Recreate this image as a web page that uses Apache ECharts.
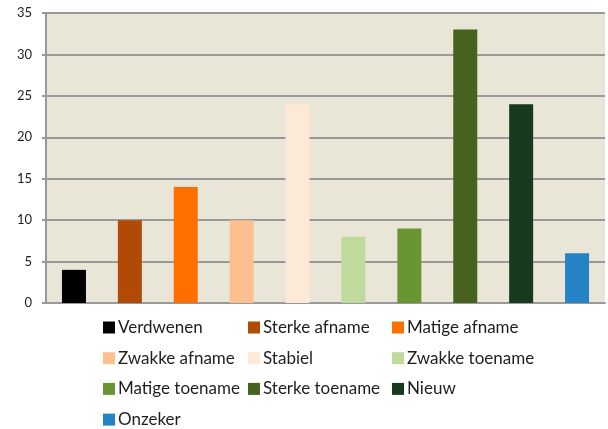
<!DOCTYPE html>
<html>
  <head>
    <meta charset="utf-8">
    <title>soorten</title>
    <script src="https://cdn.jsdelivr.net/npm/echarts@6/dist/echarts.min.js"></script>
    <style>
      html, body { margin: 0; padding: 0; background: #fff; }
    </style>
  </head>
  <body>
    <div id="main" style="width: 608px; height: 429px"></div>
    <script>
      var categories = ["Verdwenen", "Sterke afname", "Matige afname", "Zwakke afname", "Stabiel",
        "Zwakke toename", "Matige toename", "Sterke toename", "Nieuw", "Onzeker"];
      var values = [4, 10, 14, 10, 24, 8, 9, 33, 24, 6];
      var colors = ["#000000", "#B04A06", "#FF6F00", "#FDBF8E", "#FDE9D8",
        "#C0D99C", "#6A9632", "#47621E", "#173A1F", "#2383C4"];
      var yTicks = [0, 5, 10, 15, 20, 25, 30, 35];

      // legend columns, like the excel layout (column-wise)
      var legendCols = [
        ["Verdwenen", "Zwakke afname", "Matige toename", "Onzeker"],
        ["Sterke afname", "Stabiel", "Sterke toename"],
        ["Matige afname", "Zwakke toename", "Nieuw"]
      ];
      var legendLeft = [98, 243, 387];

      var chart = echarts.init(document.getElementById("main"));

      var series = categories.map(function (name, i) {
        return {
          name: name,
          type: "bar",
          stack: "all",
          barWidth: 24,
          itemStyle: { color: colors[i] },
          data: categories.map(function (c, j) { return j === i ? values[i] : "-"; })
        };
      });

      var legends = legendCols.map(function (col, k) {
        return {
          data: col,
          orient: "vertical",
          left: legendLeft[k],
          top: 314,
          height: 140,
          itemWidth: 12,
          itemHeight: 12,
          itemGap: 13.7,
          icon: "rect",
          textStyle: { fontFamily: "Lato", fontSize: 17, color: "#1e1e1e", padding: [0, 0, 0, -2] }
        };
      });

      var option = {
        animation: false,
        grid: { left: 46, right: 3, top: 13, bottom: 126, show: true, backgroundColor: "#E9E6D7", borderWidth: 0 },
        legend: legends,
        xAxis: {
          type: "category",
          data: categories,
          axisLabel: { show: false },
          axisTick: { show: false },
          axisLine: { lineStyle: { color: "#999", width: 2 } }
        },
        yAxis: {
          type: "value",
          min: yTicks[0],
          max: yTicks[yTicks.length - 1],
          interval: 5,
          axisLine: { show: true, lineStyle: { color: "#999", width: 2 } },
          axisTick: { show: true, length: 4, lineStyle: { color: "#999", width: 2 } },
          splitLine: { lineStyle: { color: "#999", width: 2 } },
          axisLabel: { fontFamily: "Lato", fontSize: 13, color: "#1e1e1e", margin: 14 }
        },
        series: series
      };

      chart.setOption(option);
    </script>
  </body>
</html>
